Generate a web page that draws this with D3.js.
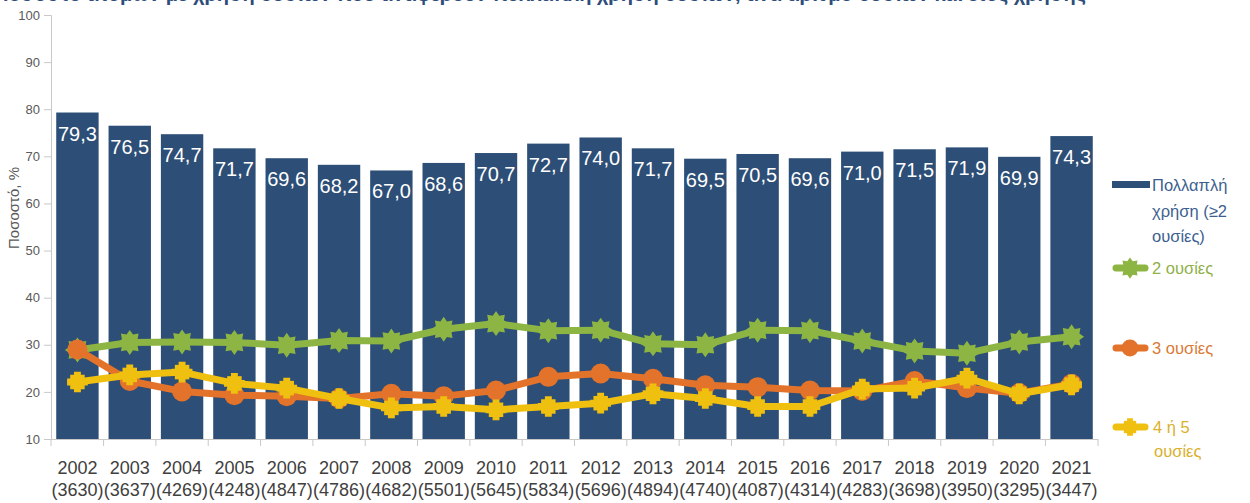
<!DOCTYPE html>
<html lang="el">
<head>
<meta charset="UTF-8">
<title>Πολλαπλή χρήση ουσιών</title>
<script src="https://d3js.org/d3.v7.min.js"></script>
<style>
  body { margin: 0; background: #fff; }
  svg { display: block; font-family: "Liberation Sans", Arial, sans-serif; }
</style>
</head>
<body>
<div id="chart"></div>
<script>
// data
var years = ["2002","2003","2004","2005","2006","2007","2008","2009","2010","2011",
             "2012","2013","2014","2015","2016","2017","2018","2019","2020","2021"];
var counts = ["3630","3637","4269","4248","4847","4786","4682","5501","5645","5834",
              "5696","4894","4740","4087","4314","4283","3698","3950","3295","3447"];
var multiUse = [79.3,76.5,74.7,71.7,69.6,68.2,67.0,68.6,70.7,72.7,74.0,71.7,69.5,70.5,69.6,71.0,71.5,71.9,69.9,74.3];
var twoSubst = [28.9,30.5,30.6,30.5,29.9,30.9,30.8,33.3,34.5,33.0,33.1,30.2,30.0,33.1,33.0,30.8,28.7,28.2,30.6,31.7];
var threeSubst = [29.0,22.3,20.1,19.3,19.1,18.6,19.6,19.1,20.3,23.2,23.9,22.8,21.4,21.0,20.3,20.2,22.3,20.8,19.7,21.7];
var fourFive = [22.1,23.6,24.2,21.8,20.8,18.6,16.6,16.9,16.2,16.9,17.6,19.6,18.6,16.9,16.9,20.6,20.8,22.9,19.6,21.5];
var yTicks = [10,20,30,40,50,60,70,80,90,100];

var W = 1250, H = 503;
var svg = d3.select("#chart").append("svg").attr("width", W).attr("height", H);

var x = d3.scaleBand().domain(years).range([51, 1098]).paddingInner(0.19).paddingOuter(0.1);
var y = d3.scaleLinear().domain([10, 100]).range([439, 15]);

// title, mostly above the top edge as in the source image
svg.append("text")
    .attr("x", -6).attr("y", 0.5)
    .attr("font-size", 20).attr("font-weight", "bold")
    .attr("fill", "#2e4d7a")
    .attr("textLength", 1092)
    .text("Ποσοστό ατόμων με χρήση ουσιών που αναφέρουν πολλαπλή χρήση ουσιών, ανά αριθμό ουσιών και έτος χρήσης");

// y axis
var yAxis = svg.append("g")
    .attr("transform", "translate(51,0)")
    .call(d3.axisLeft(y).tickValues(yTicks).tickSize(7).tickPadding(4));
yAxis.select(".domain").attr("stroke", "#c8c8c8");
yAxis.selectAll(".tick line").attr("stroke", "#c8c8c8");
yAxis.selectAll("text").attr("font-size", 13).attr("fill", "#595959")
    .attr("font-family", "Liberation Sans, Arial, sans-serif");

svg.append("text")
    .attr("transform", "translate(19,208) rotate(-90)")
    .attr("text-anchor", "middle")
    .attr("font-size", 15).attr("fill", "#595959")
    .text("Ποσοστό, %");

// bars
svg.append("g").selectAll("rect")
    .data(years)
    .enter().append("rect")
    .attr("x", function (d) { return x(d); })
    .attr("y", function (d, i) { return y(multiUse[i]); })
    .attr("width", x.bandwidth())
    .attr("height", function (d, i) { return y(10) - y(multiUse[i]); })
    .attr("fill", "#2d4e76");

svg.append("g").selectAll("text")
    .data(years)
    .enter().append("text")
    .attr("x", function (d) { return x(d) + x.bandwidth() / 2; })
    .attr("y", function (d, i) { return y(multiUse[i]) + 28; })
    .attr("text-anchor", "middle")
    .attr("font-size", 20).attr("fill", "#fff")
    .text(function (d, i) { return multiUse[i].toFixed(1).replace(".", ","); });

// x axis
var step = x.step();
var bounds = [51].concat(years.map(function (d) { return x(d) + x.bandwidth() + step * 0.095; }));
bounds[bounds.length - 1] = 1098;
svg.append("line").attr("x1", 51).attr("x2", 1098).attr("y1", 439.5).attr("y2", 439.5)
    .attr("stroke", "#c8c8c8");
svg.append("g").selectAll("line")
    .data(bounds).enter().append("line")
    .attr("x1", function (d) { return d; }).attr("x2", function (d) { return d; })
    .attr("y1", 439).attr("y2", 446)
    .attr("stroke", "#c8c8c8");

var xl = svg.append("g").selectAll("g").data(years).enter().append("g")
    .attr("transform", function (d) { return "translate(" + (x(d) + x.bandwidth() / 2) + ",0)"; })
    .attr("text-anchor", "middle").attr("font-size", 18).attr("fill", "#404040");
xl.append("text").attr("y", 474).text(function (d) { return d; });
xl.append("text").attr("y", 496).text(function (d, i) { return "(" + counts[i] + ")"; });

// markers
function starPath(ro, ri, n) {
    var p = [];
    for (var k = 0; k < 2 * n; k++) {
        var a = Math.PI * k / n - Math.PI / 2;
        var r = k % 2 ? ri : ro;
        p.push([r * Math.cos(a), r * Math.sin(a)]);
    }
    return "M" + p.join("L") + "Z";
}
var greenMark = starPath(12.5, 8.5, 8);
var crossMark = d3.symbol().type(d3.symbolCross).size(330)();
var squareMark = d3.symbol().type(d3.symbolSquare).size(210)();

var series = [
    { name: "2 ουσίες", values: twoSubst, color: "#8db543", text: "#8fb04a", mark: "star" },
    { name: "3 ουσίες", values: threeSubst, color: "#e3732a", text: "#d97a36", mark: "circle" },
    { name: "4 ή 5", values: fourFive, color: "#f0c010", text: "#d9b12c", mark: "square" }
];

function drawMark(g, s, scale) {
    if (s.mark === "star") {
        g.append("path").attr("d", greenMark).attr("fill", s.color).attr("transform", "scale(" + scale + ")");
    } else if (s.mark === "circle") {
        g.append("circle").attr("r", 10 * scale).attr("fill", s.color);
    } else {
        g.append("path").attr("d", squareMark).attr("fill", s.color).attr("transform", "scale(" + scale + ")");
        g.append("path").attr("d", crossMark).attr("fill", s.color).attr("transform", "scale(" + scale * 0.85 + ")");
    }
}

var line = d3.line()
    .x(function (d, i) { return x(years[i]) + x.bandwidth() / 2; })
    .y(function (d) { return y(d); });

series.forEach(function (s) {
    svg.append("path").datum(s.values)
        .attr("d", line)
        .attr("fill", "none").attr("stroke", s.color)
        .attr("stroke-width", 7).attr("stroke-linejoin", "round");
    svg.append("g").selectAll("g").data(s.values).enter().append("g")
        .attr("transform", function (d, i) { return "translate(" + (x(years[i]) + x.bandwidth() / 2) + "," + y(d) + ")"; })
        .each(function () { drawMark(d3.select(this), s, 1); });
});

// legend
var lg = svg.append("g").attr("font-size", 16.5);
lg.append("rect").attr("x", 1112).attr("y", 181).attr("width", 38).attr("height", 7).attr("fill", "#2d4e76");
lg.append("text").attr("x", 1152).attr("y", 191).attr("fill", "#3d5f8f")
    .selectAll("tspan").data(["Πολλαπλή", "χρήση (≥2", "ουσίες)"]).enter().append("tspan")
    .attr("x", 1152).attr("dy", function (d, i) { return i ? 25.5 : 0; })
    .text(function (d) { return d; });

var legY = [268, 348, 427];
series.forEach(function (s, k) {
    var g = lg.append("g");
    g.append("line").attr("x1", 1116).attr("x2", 1145).attr("y1", legY[k]).attr("y2", legY[k])
        .attr("stroke", s.color).attr("stroke-width", 7).attr("stroke-linecap", "round");
    var m = g.append("g").attr("transform", "translate(1130," + legY[k] + ")");
    drawMark(m, s, 0.85);
    var t = g.append("text").attr("x", 1152).attr("y", legY[k] + 6).attr("fill", s.text);
    if (k === 2) {
        t.append("tspan").attr("x", 1153).text("4 ή 5");
        t.append("tspan").attr("x", 1154).attr("dy", 24).text("ουσίες");
    } else {
        t.text(s.name);
    }
});
</script>
</body>
</html>
